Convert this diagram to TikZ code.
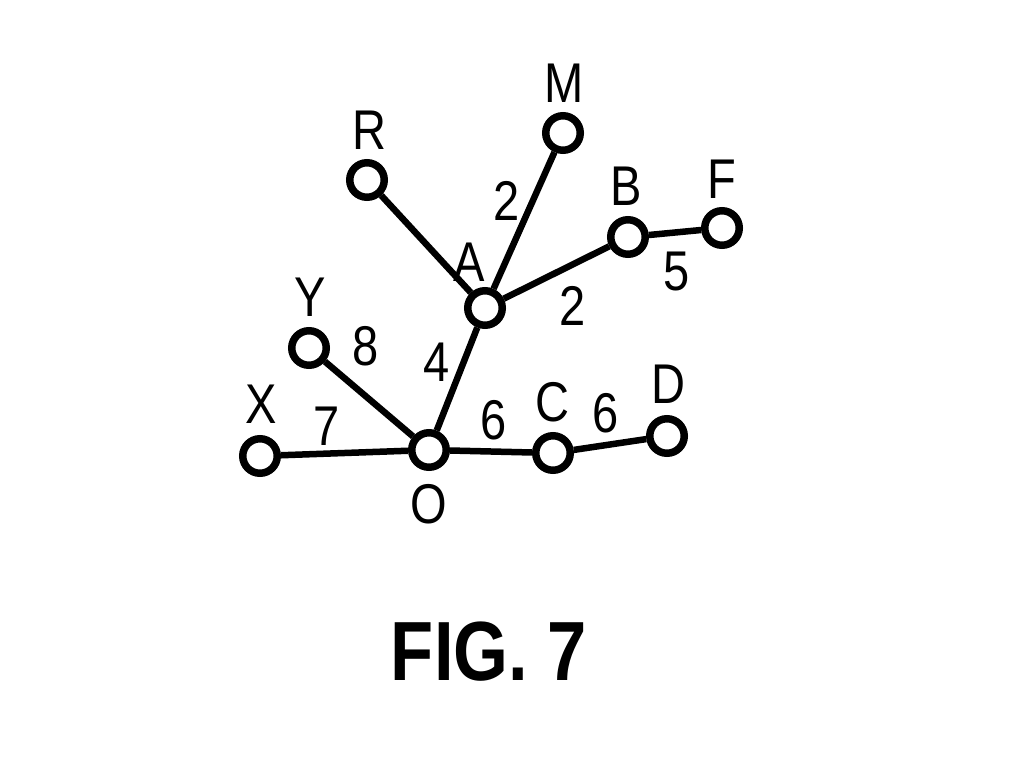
\documentclass[tikz,border=0pt]{standalone}
\usepackage{fontspec}
\setmainfont[FakeStretch=0.84]{Liberation Sans}
\begin{document}
\begin{tikzpicture}[x=1pt,y=-1pt,
  vert/.style={circle, draw, line width=7.5pt, minimum size=34.5pt, inner sep=0pt, fill=white},
  edge/.style={line width=6.5pt},
  lbl/.style={inner sep=0pt, font=\fontsize{56}{60}\selectfont},
  title/.style={inner sep=0pt, font=\bfseries\fontsize{84}{90}\selectfont}]
\useasboundingbox (0,0) rectangle (1020,768);
% vertices
\node[vert] (O) at (429,450) {};
\node[vert] (X) at (260,456) {};
\node[vert] (Y) at (309,348) {};
\node[vert] (A) at (485,308) {};
\node[vert] (R) at (367,180) {};
\node[vert] (M) at (563,133) {};
\node[vert] (B) at (628,237) {};
\node[vert] (F) at (722,228) {};
\node[vert] (C) at (553,453) {};
\node[vert] (D) at (667,436) {};
% edges
\draw[edge] (X) -- (O);
\draw[edge] (Y) -- (O);
\draw[edge] (O) -- (A);
\draw[edge] (O) -- (C);
\draw[edge] (C) -- (D);
\draw[edge] (A) -- (R);
\draw[edge] (A) -- (M);
\draw[edge] (A) -- (B);
\draw[edge] (B) -- (F);
% vertex labels
\node[lbl] (lX) at (261,404) {X};
\node[lbl] (lY) at (310,297) {Y};
\node[lbl] (lR) at (369,130) {R};
\node[lbl] (lM) at (564,83) {M};
\node[lbl] (lA) at (469,262) {A};
\node[lbl] (lB) at (626,186) {B};
\node[lbl] (lF) at (722,179) {F};
\node[lbl] (lC) at (552,402) {C};
\node[lbl] (lD) at (668,384) {D};
\node[lbl] (lO) at (429,504) {O};
% edge labels
\node[lbl] (w7) at (327,426) {7};
\node[lbl] (w8) at (366,346) {8};
\node[lbl] (w4) at (437,362) {4};
\node[lbl] (w6a) at (494,420) {6};
\node[lbl] (w6b) at (606,413) {6};
\node[lbl] (w2a) at (507,201) {2};
\node[lbl] (w2b) at (573,306) {2};
\node[lbl] (w5) at (677,272) {5};
% caption
\node[title] (fig) at (489,652) {FIG. 7};
\end{tikzpicture}
\end{document}
